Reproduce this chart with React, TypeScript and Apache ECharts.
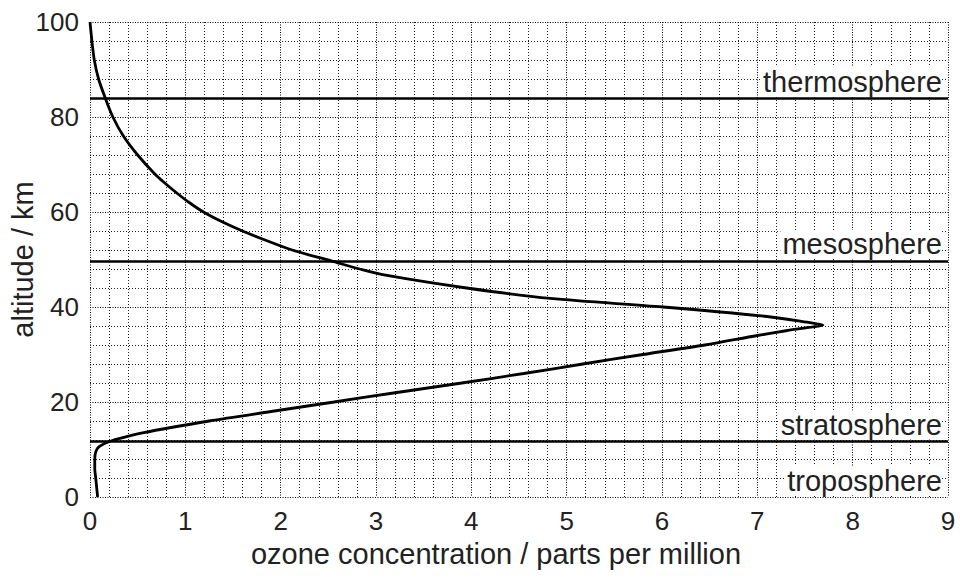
import React, { useEffect, useRef } from "react";
import * as echarts from "echarts";

// altitude (km) and ozone concentration (ppm)
const altitude = [0, 2, 4, 6, 8, 9.5, 10.5, 11.5, 12, 13.5, 16, 18, 20, 22, 24, 26, 28, 30, 32, 34, 35, 35.7, 36.2, 36.8, 38, 40, 41.8, 44, 46.7, 48, 49.7, 52, 54, 56, 58, 60, 62, 64, 66, 68, 72, 76, 80, 84, 88, 92, 96, 100];
const concentration = [0.08, 0.07, 0.06, 0.05, 0.05, 0.06, 0.09, 0.18, 0.25, 0.55, 1.25, 1.9, 2.56, 3.22, 3.9, 4.55, 5.17, 5.8, 6.45, 7.0, 7.3, 7.54, 7.69, 7.52, 7.1, 6.01, 4.83, 3.95, 3.1, 2.83, 2.53, 2.12, 1.85, 1.6, 1.38, 1.19, 1.04, 0.91, 0.79, 0.68, 0.5, 0.35, 0.24, 0.16, 0.09, 0.045, 0.02, 0];

const layerNames = ["troposphere", "stratosphere", "mesosphere", "thermosphere"];
const layerBase = [0, 11.7, 49.7, 84];

const xTicks = [0, 1, 2, 3, 4, 5, 6, 7, 8, 9];
const yTicks = [0, 20, 40, 60, 80, 100];

const FONT = "'Liberation Sans', Arial, Helvetica, sans-serif";

export default function App() {
  const ref = useRef<HTMLDivElement>(null);
  useEffect(() => {
    document.body.style.margin = "0";
    if (!ref.current) return;
    const chart = echarts.init(ref.current, null, { renderer: "svg" });
    const gridDot = { type: [1, 1.5] as any, color: "#000", width: 1 };
    const minorDot = { type: [1, 2] as any, color: "#222", width: 1 };
    chart.setOption({
      animation: false,
      backgroundColor: "#fff",
      textStyle: { fontFamily: FONT },
      grid: { left: 90, right: 12, top: 22, bottom: 82, containLabel: false, outerBoundsMode: "none" },
      xAxis: {
        type: "value",
        min: xTicks[0],
        max: xTicks[xTicks.length - 1],
        interval: 1,
        name: "ozone concentration / parts per million",
        nameLocation: "middle",
        nameGap: 42,
        nameMoveOverlap: false,
        nameTextStyle: { fontSize: 29, color: "#222", fontFamily: FONT, padding: [0, 46, 0, 0] },
        axisLine: { show: false },
        axisTick: { show: false },
        axisLabel: { fontSize: 26, color: "#222", margin: 11, fontFamily: FONT },
        splitLine: { show: true, lineStyle: gridDot },
        minorTick: { show: false, splitNumber: 5 },
        minorSplitLine: { show: true, lineStyle: minorDot },
      },
      yAxis: {
        type: "value",
        min: yTicks[0],
        max: yTicks[yTicks.length - 1],
        interval: 20,
        name: "altitude / km",
        nameLocation: "middle",
        nameGap: 53,
        nameMoveOverlap: false,
        nameTextStyle: { fontSize: 29, color: "#222", fontFamily: FONT },
        axisLine: { show: false },
        axisTick: { show: false },
        axisLabel: { fontSize: 26, color: "#222", margin: 11, fontFamily: FONT },
        splitLine: { show: true, lineStyle: gridDot },
        minorTick: { show: false, splitNumber: 5 },
        minorSplitLine: { show: true, lineStyle: minorDot },
      },
      series: [
        {
          type: "line",
          data: altitude.map((a, i) => [concentration[i], a]),
          showSymbol: false,
          smooth: 0.3,
          lineStyle: { color: "#000", width: 2.8 },
          clip: true,
          markLine: {
            silent: true,
            symbol: "none",
            data: layerNames.map((n, i) => ({
              yAxis: layerBase[i],
              lineStyle: {
                color: layerBase[i] === 0 ? "rgba(0,0,0,0)" : "#000",
                width: 2.5,
                type: "solid",
              },
              label: {
                show: true,
                position: "insideEndTop",
                formatter: n,
                fontSize: 29,
                color: "#222",
                fontFamily: FONT,
                distance: [6, 2],
                backgroundColor: "#fff",
                padding: [0, 0, 0, 2],
              },
            })),
          },
        },
      ],
    });
    return () => chart.dispose();
  }, []);
  return <div ref={ref} style={{ width: 960, height: 579 }} />;
}
